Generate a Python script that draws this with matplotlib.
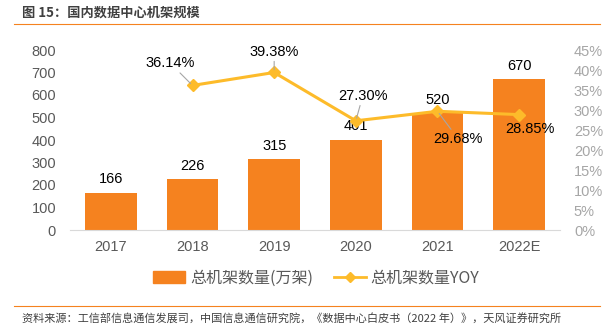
import matplotlib.pyplot as plt
from matplotlib.lines import Line2D
from matplotlib.patches import Patch

plt.rcParams['font.family'] = ['Liberation Sans', 'Noto Sans CJK SC', 'DejaVu Sans']

years = ['2017', '2018', '2019', '2020', '2021', '2022E']
racks = [166, 226, 315, 401, 520, 670]
yoy_years = ['2018', '2019', '2020', '2021', '2022E']
yoy = [36.14, 39.38, 27.30, 29.68, 28.85]

bar_color = '#F5821F'
line_color = '#FDBB2A'
cjk = ['Noto Sans CJK SC', 'DejaVu Sans']

fig = plt.figure(figsize=(6.14, 3.35), dpi=100)
ax = fig.add_axes([70 / 614, 105 / 335, 490 / 614, 180 / 335])
ax2 = ax.twinx()

x = list(range(len(years)))
ax.bar(x, racks, width=0.63, color=bar_color, zorder=2)
for xi, v in zip(x, racks):
    ax.text(xi, v + 28, str(v), ha='center', va='bottom', fontsize=10.5, color='black')

ax.set_ylim(0, 800)
ax.set_yticks(range(0, 801, 100))
ax.set_xlim(-0.5, len(years) - 0.5)
ax.set_xticks(x)
ax.set_xticklabels(years)
ax.tick_params(axis='y', length=0, colors='#595959', labelsize=10.5, pad=10)
ax.tick_params(axis='x', length=0, colors='#595959', labelsize=10.5, pad=7)
for s in ['top', 'right', 'left']:
    ax.spines[s].set_visible(False)
ax.spines['bottom'].set_color('#D9D9D9')

xl = [years.index(y) for y in yoy_years]
ax2.plot(xl, yoy, color=line_color, lw=2.2, marker='D', ms=6, zorder=3)
ax2.set_ylim(0, 45)
ax2.set_yticks(range(0, 46, 5))
ax2.set_yticklabels([f'{v}%' for v in range(0, 46, 5)])
ax2.tick_params(axis='y', length=0, colors='#A6A6A6', labelsize=10.5, pad=10)
for s in ax2.spines.values():
    s.set_visible(False)

# labels for the yoy line: (text offset in points, draw leader line)
offsets = [(-16, 11, True), (0, 10, True), (5, 13, True), (15, -15, True), (8, -5, False)]
for xi, v, (dx, dy, lead) in zip(xl, yoy, offsets):
    ax2.annotate(f'{v:.2f}%', xy=(xi, v), xytext=(dx, dy), textcoords='offset points',
                 ha='center', va='bottom' if dy > 0 else 'top', fontsize=10.5, color='black',
                 arrowprops=dict(arrowstyle='-', color='#A6A6A6', lw=0.8,
                                 shrinkA=0, shrinkB=2) if lead else None)

handles = [Patch(color=bar_color),
           Line2D([0], [0], color=line_color, lw=2, marker='D', ms=5)]
fig.legend(handles, ['总机架数量(万架)', '总机架数量YOY'], loc='center',
           bbox_to_anchor=(0.515, 57 / 335), ncol=2, frameon=False,
           prop={'family': cjk, 'size': 11.5}, labelcolor='#595959',
           handlelength=2.0, handletextpad=0.3, columnspacing=1.3)

fig.text(22 / 614, 1 - 13 / 335, '图 15：国内数据中心机架规模', fontsize=9.5,
         color='#404040', va='center', family=cjk, weight='bold')
fig.add_artist(Line2D([14 / 614, 600 / 614], [1 - 24 / 335] * 2, color='#F5821F', lw=0.8))
fig.add_artist(Line2D([14 / 614, 600 / 614], [1 - 306 / 335] * 2, color='#F5821F', lw=0.8))
fig.text(22 / 614, 1 - 318 / 335,
         '资料来源：工信部信息通信发展司，中国信息通信研究院，《数据中心白皮书（2022 年）》，天风证券研究所',
         fontsize=8, color='#404040', va='center', family=cjk)

fig.savefig('out.png', dpi=100)
